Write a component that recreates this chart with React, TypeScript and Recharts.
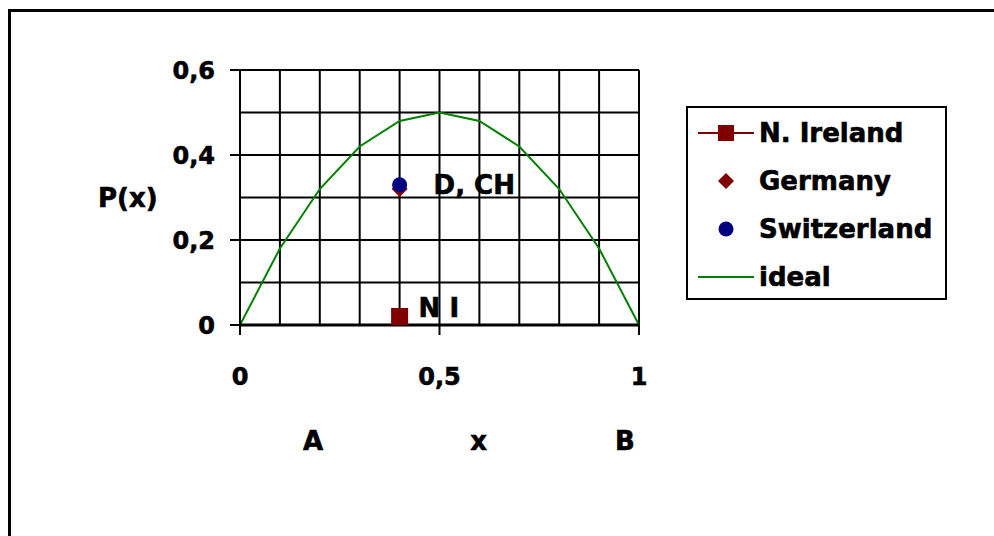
import React from 'react';
import {
  ComposedChart,
  Line,
  Scatter,
  XAxis,
  YAxis,
  CartesianGrid,
  Legend,
  ReferenceDot,
} from 'recharts';

// ---------- data ----------
const xValues = [0, 0.1, 0.2, 0.3, 0.4, 0.5, 0.6, 0.7, 0.8, 0.9, 1];
const idealValues = [0, 0.18, 0.32, 0.42, 0.48, 0.5, 0.48, 0.42, 0.32, 0.18, 0];
const nIrelandPoints = [{ x: 0.4, y: 0.02 }];
const germanyPoints = [{ x: 0.4, y: 0.32 }];
const switzerlandPoints = [{ x: 0.4, y: 0.33 }];
const xTicks = [0, 0.5, 1];
const yTicks = [0, 0.2, 0.4, 0.6];
const xGridTicks = [0, 0.1, 0.2, 0.3, 0.4, 0.5, 0.6, 0.7, 0.8, 0.9, 1];
const yGridTicks = [0, 0.1, 0.2, 0.3, 0.4, 0.5, 0.6];
const annotations = [
  { x: 0.4, y: 0.33, text: 'D, CH', offset: 33 },
  { x: 0.4, y: 0.04, text: 'N I', offset: 18 },
];
const axisWords = [
  { text: 'A', at: 0.183 },
  { text: 'x', at: 0.598 },
  { text: 'B', at: 0.965 },
];
const legendNames = ['N. Ireland', 'Germany', 'Switzerland', 'ideal'];

const idealData = xValues.map((x, i) => ({ x, y: idealValues[i] }));

// ---------- styles ----------
const FONT = '"DejaVu Sans", sans-serif';
const DARK_RED = '#800000';
const NAVY = '#000080';
const GREEN = '#008000';
const TEXT_STROKE = 0.6;

const fmt = (v: number) => String(v).replace('.', ',');

const applyScale = (axis: any, v: number, start: number, size: number, invert: boolean) => {
  const s = axis && axis.scale;
  if (typeof s === 'function') return s(v);
  if (s && typeof s.map === 'function') return s.map(v);
  if (s && typeof s.apply === 'function') return s.apply(v);
  return invert ? start + size * (1 - v / 0.6) : start + size * v;
};

const verticalGen = (props: any) =>
  xGridTicks.map((v) =>
    applyScale(props.xAxis, v, props.offset.left, props.offset.width, false),
  );
const horizontalGen = (props: any) =>
  yGridTicks.map((v) =>
    applyScale(props.yAxis, v, props.offset.top, props.offset.height, true),
  );

const SquareShape = (props: any) => {
  const { cx, cy } = props;
  return <rect x={cx - 8.5} y={cy - 8.5} width={17} height={17} fill={DARK_RED} />;
};
const DiamondShape = (props: any) => {
  const { cx, cy } = props;
  const h = 8;
  return (
    <polygon
      points={`${cx},${cy - h} ${cx + h},${cy} ${cx},${cy + h} ${cx - h},${cy}`}
      fill={DARK_RED}
    />
  );
};
const CircleShape = (props: any) => {
  const { cx, cy } = props;
  return <circle cx={cx} cy={cy} r={7.5} fill={NAVY} />;
};

const renderAxisWords = (props: any) => {
  const vb = props.viewBox || {};
  return (
    <g>
      {axisWords.map((w) => (
        <text
          key={w.text}
          x={vb.x + w.at * vb.width}
          y={vb.y + 116}
          dy="0.36em"
          textAnchor="middle"
          fill="#000"
          stroke="#000"
          strokeWidth={TEXT_STROKE}
          fontFamily={FONT}
          fontWeight="bold"
          fontSize={26}
        >
          {w.text}
        </text>
      ))}
    </g>
  );
};

const LegendIcon = ({ index }: { index: number }) => {
  if (index === 0) {
    return (
      <svg width={60} height={20}>
        <line x1={2} y1={10} x2={58} y2={10} stroke={DARK_RED} strokeWidth={2} />
        <rect x={22} y={2} width={16} height={16} fill={DARK_RED} />
      </svg>
    );
  }
  if (index === 1) {
    return (
      <svg width={60} height={20}>
        <polygon points="30,2 38,10 30,18 22,10" fill={DARK_RED} />
      </svg>
    );
  }
  if (index === 2) {
    return (
      <svg width={60} height={20}>
        <circle cx={30} cy={10} r={7.5} fill={NAVY} />
      </svg>
    );
  }
  return (
    <svg width={60} height={20}>
      <line x1={2} y1={10} x2={58} y2={10} stroke={GREEN} strokeWidth={2} />
    </svg>
  );
};

const renderLegend = () => (
  <div
    style={{
      width: 261,
      height: 194,
      border: '2px solid #000',
      boxSizing: 'border-box',
      paddingTop: 1,
      background: '#fff',
    }}
  >
    {legendNames.map((name, i) => (
      <div
        key={name}
        style={{ height: 48, display: 'flex', alignItems: 'center' }}
      >
        <div style={{ width: 8 }} />
        <LegendIcon index={i} />
        <div style={{ width: 3 }} />
        <span
          style={{
            fontFamily: FONT,
            fontWeight: 'bold',
            fontSize: 26,
            color: '#000',
            lineHeight: '30px',
            whiteSpace: 'nowrap',
            WebkitTextStroke: `${TEXT_STROKE}px #000`,
          }}
        >
          {name}
        </span>
      </div>
    ))}
  </div>
);

const tickStyle = {
  fill: '#000',
  stroke: '#000',
  strokeWidth: TEXT_STROKE,
  fontSize: 24,
  fontWeight: 'bold' as const,
  fontFamily: FONT,
};

export default function App() {
  return (
    <div
      style={{
        position: 'fixed',
        left: 0,
        top: 0,
        width: 994,
        height: 536,
        background: '#fff',
        overflow: 'hidden',
      }}
    >
      <div
        style={{
          position: 'absolute',
          left: 8,
          top: 9,
          width: 1200,
          height: 800,
          borderLeft: '3px solid #000',
          borderTop: '3px solid #000',
        }}
      />
      <div style={{ position: 'absolute', left: 0, top: 0 }}>
        <ComposedChart
          width={994}
          height={536}
          margin={{ top: 70, right: 355, bottom: 111, left: 0 }}
        >
          <CartesianGrid
            stroke="#000"
            strokeWidth={2}
            fill="none"
            verticalCoordinatesGenerator={verticalGen}
            horizontalCoordinatesGenerator={horizontalGen}
          />
          <XAxis
            type="number"
            dataKey="x"
            domain={[0, 1]}
            ticks={xTicks}
            interval={0}
            tickFormatter={fmt}
            tick={tickStyle}
            axisLine={{ stroke: '#000', strokeWidth: 3 }}
            tickLine={{ stroke: '#000', strokeWidth: 2 }}
            tickSize={10}
            tickMargin={33}
            height={100}
            label={renderAxisWords}
          />
          <YAxis
            type="number"
            dataKey="y"
            domain={[0, 0.6]}
            ticks={yTicks}
            interval={0}
            tickFormatter={fmt}
            tick={tickStyle}
            axisLine={{ stroke: '#000', strokeWidth: 2 }}
            tickLine={{ stroke: '#000', strokeWidth: 2 }}
            tickSize={10}
            tickMargin={15}
            width={240}
            label={{
              value: 'P(x)',
              position: 'insideLeft',
              offset: 98,
              fill: '#000',
              stroke: '#000',
              strokeWidth: TEXT_STROKE,
              fontSize: 26,
              fontWeight: 'bold',
              fontFamily: FONT,
            }}
          />
          <Line
            data={idealData}
            dataKey="y"
            type="linear"
            stroke={GREEN}
            strokeWidth={2}
            dot={false}
            activeDot={false}
            isAnimationActive={false}
            name="ideal"
          />
          <Scatter
            data={germanyPoints}
            dataKey="y"
            shape={DiamondShape}
            isAnimationActive={false}
            name="Germany"
          />
          <Scatter
            data={switzerlandPoints}
            dataKey="y"
            shape={CircleShape}
            isAnimationActive={false}
            name="Switzerland"
          />
          <Scatter
            data={nIrelandPoints}
            dataKey="y"
            shape={SquareShape}
            isAnimationActive={false}
            name="N. Ireland"
          />
          {annotations.map((a) => (
            <ReferenceDot
              key={a.text}
              x={a.x}
              y={a.y}
              r={1}
              fill="none"
              stroke="none"
              label={{
                value: a.text,
                position: 'right',
                offset: a.offset,
                fill: '#000',
                stroke: '#000',
                strokeWidth: TEXT_STROKE,
                fontSize: 26,
                fontWeight: 'bold',
                fontFamily: FONT,
              }}
            />
          ))}
          <Legend
            layout="vertical"
            align="center"
            verticalAlign="middle"
            content={renderLegend}
            wrapperStyle={{
              position: 'absolute',
              left: 686,
              top: 106,
              width: 261,
              height: 194,
            }}
          />
        </ComposedChart>
      </div>
    </div>
  );
}
